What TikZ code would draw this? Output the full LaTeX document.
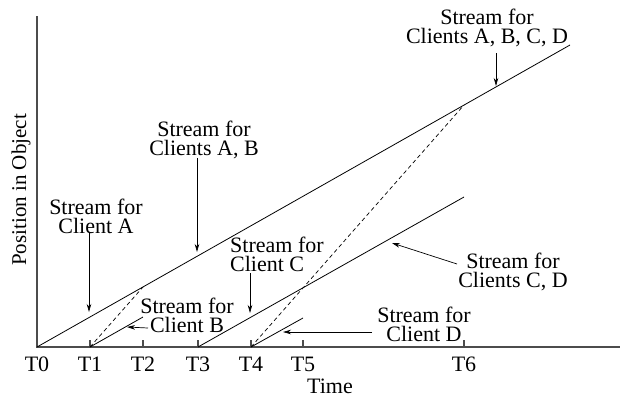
\documentclass[tikz,border=0pt]{standalone}
\usepackage{fontspec}
\setmainfont{Liberation Serif}
\usetikzlibrary{arrows.meta}
\begin{document}
\begin{tikzpicture}[x=1pt,y=-1pt,
  axis/.style={draw=black!70,line width=1.2pt},
  stream/.style={draw=black,line width=0.8pt},
  dashline/.style={draw=black,line width=0.7pt,dash pattern=on 4pt off 3pt},
  pointer/.style={draw=black,line width=0.7pt,-{Stealth[length=8pt,width=4.5pt,inset=2.5pt]}},
  lbl/.style={inner sep=0pt,align=center,font=\fontsize{22}{19}\selectfont},
  tick/.style={inner sep=0pt,anchor=base,font=\fontsize{22}{19}\selectfont}]
\useasboundingbox (0,0) rectangle (620,397);
% axes
\coordinate (O) at (37,347);
\coordinate (ytop) at (37,16);
\coordinate (xend) at (620,347);
\draw[axis] (ytop) -- (O) -- (xend);
% ticks
\foreach \n/\x in {0/37,1/90,2/143,3/198,4/251,5/303,6/464}{
  \coordinate (t\n) at (\x,347);
  \coordinate (tt\n) at (\x,340);
  \draw[axis] (t\n) -- (tt\n);
  \node[tick] (T\n) at (\x,371) {T\n};
}
\node[tick] (time) at (330,393) {Time};
\node[lbl,rotate=90,font=\fontsize{21}{19}\selectfont] (ylab) at (21,190) {Position in Object};
% streams
\coordinate (Aend) at (570,45);
\coordinate (Bend) at (143,317);
\coordinate (Cend) at (464,197);
\coordinate (Dend) at (303,318);
\coordinate (dashA) at (143,287);
\coordinate (dashB) at (464,105);
\draw[stream] (t0) -- (Aend);
\draw[stream] (t1) -- (Bend);
\draw[stream] (t3) -- (Cend);
\draw[stream] (t4) -- (Dend);
\draw[dashline] (t1) -- (dashA);
\draw[dashline] (t4) -- (dashB);
% labels
\node[lbl] (lA) at (96,216) {Stream for\\Client A};
\node[lbl] (lAB) at (204,139.5) {Stream for\\Clients A, B};
\node[lbl,align=left,anchor=west] (lC) at (230,254.5) {Stream for\\Client C};
\node[lbl] (lB) at (187,315.5) {Stream for\\Client B};
\node[lbl] (lD) at (424,324) {Stream for\\Client D};
\node[lbl] (lCD) at (513,271.5) {Stream for\\Clients C, D};
\node[lbl] (lABCD) at (487,28) {Stream for\\Clients A, B, C, D};
% pointers
\coordinate (pA1) at (89,233);   \coordinate (pA2) at (89,312);
\coordinate (pAB1) at (197,158); \coordinate (pAB2) at (197,252);
\coordinate (pC1) at (250,273);  \coordinate (pC2) at (250,313);
\coordinate (pB1) at (148,328);  \coordinate (pB2) at (127,327);
\coordinate (pD1) at (372,332);  \coordinate (pD2) at (283,332);
\coordinate (pCD1) at (457,264); \coordinate (pCD2) at (392,243);
\coordinate (pX1) at (496,53);   \coordinate (pX2) at (496,86);
\draw[pointer] (pA1) -- (pA2);
\draw[pointer] (pAB1) -- (pAB2);
\draw[pointer] (pC1) -- (pC2);
\draw[pointer] (pB1) -- (pB2);
\draw[pointer] (pD1) -- (pD2);
\draw[pointer] (pCD1) -- (pCD2);
\draw[pointer] (pX1) -- (pX2);
\end{tikzpicture}
\end{document}
